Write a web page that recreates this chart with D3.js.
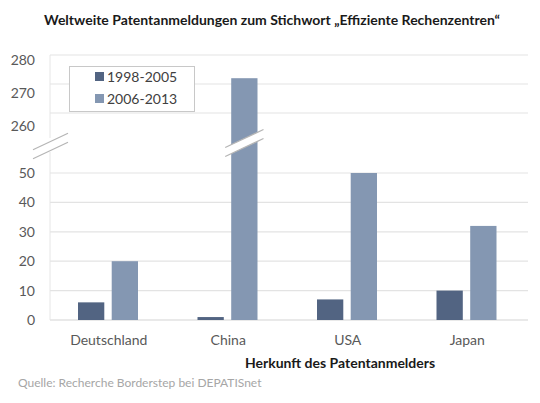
<!DOCTYPE html>
<html>
<head>
<meta charset="utf-8">
<script src="https://cdn.jsdelivr.net/npm/d3@7"></script>
<style>
    body { margin: 0; background: #fff; }
    text { font-family: Lato, "Open Sans", sans-serif; }
    .tick-label { font-size: 14px; fill: #595959; }
    .cat-label { font-size: 14px; fill: #595959; }
    .legend-label { font-size: 14px; fill: #404040; }
</style>
</head>
<body>
<script>
// Chart data
const countries = ["Deutschland", "China", "USA", "Japan"];
const series = ["1998-2005", "2006-2013"];
const early = [6, 1, 7, 10];      // 1998-2005
const late = [20, 272, 50, 32];   // 2006-2013
const lowTicks = [0, 10, 20, 30, 40, 50];
const highTicks = [260, 270, 280];

const width = 540;
const height = 403;

const svg = d3.select("body")
    .append("svg")
    .attr("width", width)
    .attr("height", height);

// Scales: lower panel 0-50, upper panel 260-280 (broken axis)
const xScale = d3.scaleBand()
    .domain(countries)
    .range([50, 528]);

const xInner = d3.scaleBand()
    .domain(series)
    .range([28, 88])
    .paddingInner(0.22);

const yLow = d3.scaleLinear()
    .domain([0, 50])
    .range([320, 173]);

const yHigh = d3.scaleLinear()
    .domain([260, 280])
    .range([113, 55]);

// labels of the upper panel sit a little lower than their gridlines
const yHighLabel = d3.scaleLinear()
    .domain([260, 280])
    .range([126, 60]);

const colorScale = d3.scaleOrdinal()
    .domain(series)
    .range(["#526482", "#8497b2"]);

// value -> pixel across the break
const yVal = v => v > 50 ? yHigh(v) : yLow(v);

// Gridlines
svg.append("g")
    .selectAll("line")
    .data(lowTicks)
    .join("line")
    .attr("x1", 50)
    .attr("x2", 528)
    .attr("y1", d => yLow(d))
    .attr("y2", d => yLow(d))
    .attr("stroke", d => d === 0 ? "#d4d4d4" : "#e3e3e3")
    .attr("stroke-width", 1.2);

svg.append("g")
    .selectAll("line")
    .data(highTicks)
    .join("line")
    .attr("x1", 50)
    .attr("x2", 528)
    .attr("y1", d => yHigh(d))
    .attr("y2", d => yHigh(d))
    .attr("stroke", "#e3e3e3")
    .attr("stroke-width", 1.2);

// Vertical axis line (split at the break)
svg.append("line")
    .attr("x1", 50).attr("x2", 50)
    .attr("y1", yHigh(280)).attr("y2", 138)
    .attr("stroke", "#e6e6e6");
svg.append("line")
    .attr("x1", 50).attr("x2", 50)
    .attr("y1", 152).attr("y2", yLow(0))
    .attr("stroke", "#e6e6e6");

// Tick labels
svg.append("g")
    .selectAll("text")
    .data(lowTicks)
    .join("text")
    .attr("class", "tick-label")
    .attr("x", 35)
    .attr("y", d => yLow(d))
    .attr("dy", "0.35em")
    .attr("text-anchor", "end")
    .text(d => d);

svg.append("g")
    .selectAll("text")
    .data(highTicks)
    .join("text")
    .attr("class", "tick-label")
    .attr("x", 35)
    .attr("y", d => yHighLabel(d))
    .attr("dy", "0.35em")
    .attr("text-anchor", "end")
    .text(d => d);

// Bars
const groups = svg.append("g")
    .selectAll("g")
    .data(countries)
    .join("g")
    .attr("transform", d => `translate(${xScale(d)},0)`);

groups.append("rect")
    .attr("x", xInner(series[0]))
    .attr("width", xInner.bandwidth())
    .attr("y", (d, i) => yVal(early[i]))
    .attr("height", (d, i) => yLow(0) - yVal(early[i]))
    .attr("fill", colorScale(series[0]));

groups.append("rect")
    .attr("x", xInner(series[1]))
    .attr("width", xInner.bandwidth())
    .attr("y", (d, i) => yVal(late[i]))
    .attr("height", (d, i) => yLow(0) - yVal(late[i]))
    .attr("fill", colorScale(series[1]));

// Break marks on the tall bar and on the axis
function breakMark(x0, x1, yc) {
    const slope = 0.47;
    const half = (x1 - x0) / 2;
    const pts = [
        [x0, yc + half * slope - 4.5],
        [x1, yc - half * slope - 4.5],
        [x1, yc - half * slope + 4.5],
        [x0, yc + half * slope + 4.5]
    ];
    svg.append("path")
        .attr("d", d3.line()(pts) + "Z")
        .attr("fill", "#fff")
        .attr("stroke", "none");
    svg.append("line")
        .attr("x1", pts[0][0]).attr("y1", pts[0][1])
        .attr("x2", pts[1][0]).attr("y2", pts[1][1])
        .attr("stroke", "#b5b5b5").attr("stroke-width", 1.2);
    svg.append("line")
        .attr("x1", pts[3][0]).attr("y1", pts[3][1])
        .attr("x2", pts[2][0]).attr("y2", pts[2][1])
        .attr("stroke", "#b5b5b5").attr("stroke-width", 1.2);
}

const chinaX = xScale("China") + xInner(series[1]);
breakMark(chinaX - 6, chinaX + xInner.bandwidth() + 6, 143);
breakMark(33, 68, 146);

// Legend
const legend = svg.append("g");
legend.append("rect")
    .attr("x", 69.5)
    .attr("y", 66.5)
    .attr("width", 125)
    .attr("height", 45)
    .attr("fill", "#fff")
    .attr("stroke", "#c8c8c8");

series.forEach((s, i) => {
    legend.append("rect")
        .attr("x", 95)
        .attr("y", 72 + i * 22)
        .attr("width", 9)
        .attr("height", 9)
        .attr("fill", colorScale(s));
    legend.append("text")
        .attr("class", "legend-label")
        .attr("x", 107)
        .attr("y", 77 + i * 22)
        .attr("dy", "0.35em")
        .text(s);
});

// Category labels
svg.append("g")
    .selectAll("text")
    .data(countries)
    .join("text")
    .attr("class", "cat-label")
    .attr("x", d => xScale(d) + xScale.bandwidth() / 2 - 1)
    .attr("y", 340)
    .attr("dy", "0.35em")
    .attr("text-anchor", "middle")
    .text(d => d);

// Axis title
svg.append("text")
    .attr("x", 340)
    .attr("y", 363)
    .attr("dy", "0.35em")
    .attr("text-anchor", "middle")
    .attr("font-size", "14px")
    .attr("font-weight", "bold")
    .attr("fill", "#1a1a1a")
    .text("Herkunft des Patentanmelders");

// Chart title
svg.append("text")
    .attr("x", 272)
    .attr("y", 20)
    .attr("dy", "0.35em")
    .attr("text-anchor", "middle")
    .attr("font-size", "14px")
    .attr("font-weight", "bold")
    .attr("fill", "#1a1a1a")
    .text("Weltweite Patentanmeldungen zum Stichwort „Effiziente Rechenzentren“");

// Source note
svg.append("text")
    .attr("x", 18)
    .attr("y", 383)
    .attr("dy", "0.35em")
    .attr("font-size", "12px")
    .attr("fill", "#a6a6a6")
    .text("Quelle: Recherche Borderstep bei DEPATISnet");
</script>
</body>
</html>
